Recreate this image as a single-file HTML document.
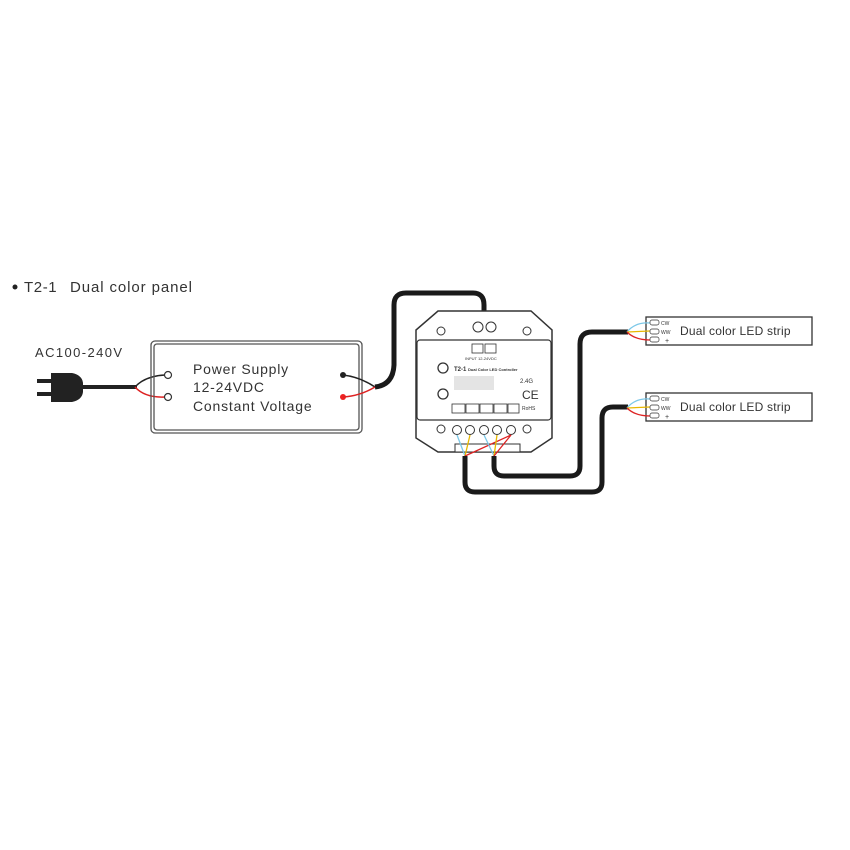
<!DOCTYPE html>
<html><head><style>body{margin:0;background:#fff}svg{display:block}</style></head><body>
<svg width="850" height="850" viewBox="0 0 850 850" xmlns="http://www.w3.org/2000/svg" font-family="Liberation Sans, sans-serif">
<rect width="850" height="850" fill="#fff"/>
<circle cx="15" cy="287" r="2.5" fill="#222"/>
<text x="24" y="292" font-size="15" fill="#333" letter-spacing="0.6">T2-1</text>
<text x="70" y="292" font-size="15" fill="#333" letter-spacing="0.9">Dual color panel</text>
<text x="35" y="357" font-size="13" fill="#333" letter-spacing="1.4">AC100-240V</text>
<!-- plug -->
<rect x="37" y="379" width="15" height="4" fill="#222"/>
<rect x="37" y="392" width="15" height="4" fill="#222"/>
<path d="M51 373 H72 Q82 375 83 383 V392 Q82 400 72 402 H51 Z" fill="#222"/>
<rect x="82" y="385" width="55" height="4" fill="#222"/>
<path d="M135 387 Q145 376 165 375" stroke="#222" stroke-width="1.5" fill="none"/>
<path d="M135 387 Q145 398 165 397" stroke="#d22" stroke-width="1.5" fill="none"/>
<!-- PSU -->
<rect x="151" y="341" width="211" height="92" rx="4" fill="none" stroke="#555" stroke-width="1.3"/>
<rect x="154" y="344" width="205" height="86" rx="3" fill="none" stroke="#555" stroke-width="1.3"/>
<circle cx="168" cy="375" r="3.5" fill="#fff" stroke="#333" stroke-width="1.2"/>
<circle cx="168" cy="397" r="3.5" fill="#fff" stroke="#333" stroke-width="1.2"/>
<text x="193" y="374" font-size="14" fill="#333" letter-spacing="0.8">Power Supply</text>
<text x="193" y="392" font-size="14" fill="#333" letter-spacing="0.8">12-24VDC</text>
<text x="193" y="411" font-size="14" fill="#333" letter-spacing="0.8">Constant Voltage</text>
<circle cx="343" cy="375" r="3" fill="#222"/>
<circle cx="343" cy="397" r="3" fill="#e22"/>
<path d="M343 375 Q360 377 375 387" stroke="#222" stroke-width="1.5" fill="none"/>
<path d="M343 397 Q360 396 375 387" stroke="#d22" stroke-width="1.5" fill="none"/>
<path d="M375 387 Q393 385 394 365 V305 Q394 293 406 293 H473 Q484 293 484 305 V315" stroke="#1a1a1a" stroke-width="5" fill="none"/>
<path d="M484 312 L478 322 M484 312 L491 322" stroke="#d22" stroke-width="1.5" fill="none"/>
<!-- controller -->
<path d="M438 311 H531 L552 330 V438 L531 452 H438 L416 438 V330 Z" fill="#fff" stroke="#333" stroke-width="1.5"/>
<rect x="417" y="340" width="134" height="80" rx="3" fill="#fff" stroke="#333" stroke-width="1.2"/>
<circle cx="441" cy="331" r="4" fill="none" stroke="#333"/><circle cx="527" cy="331" r="4" fill="none" stroke="#333"/>
<circle cx="441" cy="429" r="4" fill="none" stroke="#333"/><circle cx="527" cy="429" r="4" fill="none" stroke="#333"/>
<circle cx="478" cy="327" r="5" fill="#fff" stroke="#333"/><circle cx="491" cy="327" r="5" fill="#fff" stroke="#333"/>
<rect x="472" y="344" width="11" height="9" fill="none" stroke="#333" stroke-width="0.8"/>
<rect x="485" y="344" width="11" height="9" fill="none" stroke="#333" stroke-width="0.8"/>
<text x="465" y="360" font-size="4" fill="#333">INPUT 12-24VDC</text>
<circle cx="443" cy="368" r="5" fill="none" stroke="#333" stroke-width="1.3"/>
<circle cx="443" cy="394" r="5" fill="none" stroke="#333" stroke-width="1.3"/>
<text x="454" y="371" font-size="6" font-weight="bold" fill="#333">T2-1 <tspan font-size="4">Dual Color LED Controller</tspan></text>
<rect x="454" y="376" width="40" height="14" fill="#bbb" opacity="0.4"/>
<text x="520" y="383" font-size="6" fill="#333">2.4G</text>
<text x="522" y="399" font-size="12" fill="#333">CE</text>
<text x="522" y="410" font-size="5" fill="#333">RoHS</text>
<g fill="none" stroke="#333" stroke-width="0.8"><rect x="452" y="404" width="13" height="9"/><rect x="466" y="404" width="13" height="9"/><rect x="480" y="404" width="13" height="9"/><rect x="494" y="404" width="13" height="9"/><rect x="508" y="404" width="11" height="9"/></g>
<g fill="#fff" stroke="#333"><circle cx="457" cy="430" r="4.5"/><circle cx="470" cy="430" r="4.5"/><circle cx="484" cy="430" r="4.5"/><circle cx="497" cy="430" r="4.5"/><circle cx="511" cy="430" r="4.5"/></g>
<rect x="455" y="444" width="65" height="8" fill="#fff" stroke="#333"/>
<g fill="none" stroke-width="1.3">
<path d="M457 435 L465 456" stroke="#7cc8e8"/><path d="M470 435 L465 456" stroke="#e8b800"/><path d="M511 435 L465 456" stroke="#d22"/>
<path d="M484 435 L494 456" stroke="#7cc8e8"/><path d="M497 435 L494 456" stroke="#e8b800"/><path d="M511 435 L494 456" stroke="#d22"/>
</g>
<path d="M465 456 V482 Q465 492 475 492 H592 Q602 492 602 482 V418 Q602 407 613 407 H628" stroke="#1a1a1a" stroke-width="5" fill="none"/>
<path d="M494 456 V466 Q494 476 504 476 H570 Q580 476 580 466 V344 Q580 332 592 332 H628" stroke="#1a1a1a" stroke-width="5" fill="none"/>
<!-- strips -->
<g>
<rect x="646" y="317" width="166" height="28" fill="#fff" stroke="#333" stroke-width="1.3"/>
<path d="M627 332 Q635 322 650 323" stroke="#7cc8e8" stroke-width="1.3" fill="none"/>
<path d="M627 332 L650 331" stroke="#e8b800" stroke-width="1.3" fill="none"/>
<path d="M627 332 Q635 340 650 340" stroke="#d22" stroke-width="1.3" fill="none"/>
<rect x="650" y="320" width="9" height="5" rx="2" fill="#fff" stroke="#333" stroke-width="0.7"/>
<rect x="650" y="329" width="9" height="5" rx="2" fill="#fff" stroke="#333" stroke-width="0.7"/>
<rect x="650" y="337" width="9" height="5" rx="2" fill="#fff" stroke="#333" stroke-width="0.7"/>
<text x="661" y="325" font-size="5" fill="#333">CW</text><text x="661" y="334" font-size="5" fill="#333">WW</text><text x="665" y="343" font-size="7" fill="#333">+</text>
<text x="680" y="335" font-size="12" fill="#333" letter-spacing="0.2">Dual color LED strip</text>
</g>
<g transform="translate(0,76)">
<rect x="646" y="317" width="166" height="28" fill="#fff" stroke="#333" stroke-width="1.3"/>
<path d="M627 332 Q635 322 650 323" stroke="#7cc8e8" stroke-width="1.3" fill="none"/>
<path d="M627 332 L650 331" stroke="#e8b800" stroke-width="1.3" fill="none"/>
<path d="M627 332 Q635 340 650 340" stroke="#d22" stroke-width="1.3" fill="none"/>
<rect x="650" y="320" width="9" height="5" rx="2" fill="#fff" stroke="#333" stroke-width="0.7"/>
<rect x="650" y="329" width="9" height="5" rx="2" fill="#fff" stroke="#333" stroke-width="0.7"/>
<rect x="650" y="337" width="9" height="5" rx="2" fill="#fff" stroke="#333" stroke-width="0.7"/>
<text x="661" y="325" font-size="5" fill="#333">CW</text><text x="661" y="334" font-size="5" fill="#333">WW</text><text x="665" y="343" font-size="7" fill="#333">+</text>
<text x="680" y="335" font-size="12" fill="#333" letter-spacing="0.2">Dual color LED strip</text>
</g>
</svg>
</body></html>
